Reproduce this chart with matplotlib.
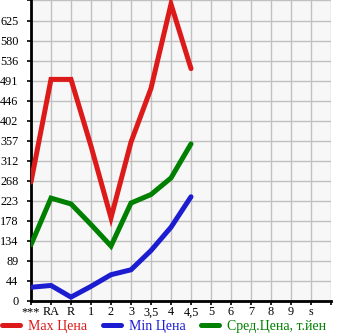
import matplotlib
matplotlib.use('Agg')
import matplotlib.pyplot as plt
from matplotlib.lines import Line2D

plt.rcParams['font.family'] = ['Liberation Serif', 'DejaVu Serif']

# данные
categories = ['***', 'RA', 'R', '1', '2', '3', '3,5', '4', '4,5', '5', '6', '7', '8', '9', 's']
max_price = [265, 494, 494, 345, 185, 354, 474, 662, 518]
min_price = [30, 34, 8, 32, 58, 69, 112, 164, 232]
avg_price = [125, 229, 216, 170, 122, 218, 237, 274, 350]
y_ticks = [0, 44, 89, 134, 178, 223, 268, 312, 357, 402, 446, 491, 536, 580, 625]
y_top = 671.2

fig = plt.figure(figsize=(3.45, 3.35), dpi=100)
ax = fig.add_axes([31 / 345, 1 - 300.7 / 335, 300 / 345, 300.7 / 335])
ax.set_facecolor('#f7f7f7')

colors = ['#dd1a1a', '#1c1cd0', '#008000']
xs = list(range(len(max_price)))
lw = 3.6
for series, c in zip([max_price, min_price, avg_price], colors):
    ax.plot(xs, series, color=c, linewidth=lw, solid_capstyle='round',
            solid_joinstyle='miter', zorder=3)

ax.set_xlim(0, len(categories))
ax.set_ylim(0, y_top)
ax.set_xticks(range(len(categories) + 1))
ax.set_xticklabels(categories + [''])
ax.set_yticks(y_ticks + [y_top])
ax.set_yticklabels([str(v) for v in y_ticks] + [''])

ax.grid(True, color='#c0c0c0', linewidth=1.0, zorder=0)
ax.set_axisbelow(True)
for s in ['top', 'right']:
    ax.spines[s].set_visible(False)
for s in ['left', 'bottom']:
    ax.spines[s].set_linewidth(2.0)
    ax.spines[s].set_color('black')
ax.tick_params(axis='both', length=3, width=1.2, labelsize=8.8, color='black')
ax.tick_params(axis='y', pad=6)
ax.tick_params(axis='x', pad=1)

# легенда
handles = [Line2D([], [], color=c, linewidth=lw, solid_capstyle='round') for c in colors]
labels = ['Max Цена', 'Min Цена', 'Сред.Цена, т.йен']
leg = fig.legend(handles, labels, loc='lower left', bbox_to_anchor=(0.0, 0.0), ncol=3,
                 frameon=False, fontsize=10, handlelength=1.3, handletextpad=0.55,
                 columnspacing=1.15, borderaxespad=0.0, borderpad=0.15)
for t, c in zip(leg.get_texts(), colors):
    t.set_color(c)

fig.savefig('out.png', dpi=100)
